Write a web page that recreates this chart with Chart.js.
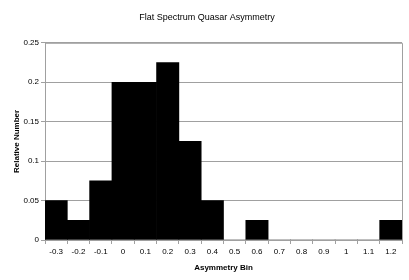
<!DOCTYPE html>
<html>
<head>
<meta charset="utf-8">
<script src="https://cdn.jsdelivr.net/npm/chart.js@4"></script>
<style>
  html, body { margin: 0; padding: 0; background: #fff; }
</style>
</head>
<body>
<canvas id="grafico" width="409" height="280"></canvas>
<script>
// bins and relative counts
const bins = ['-0.3', '-0.2', '-0.1', '0', '0.1', '0.2', '0.3', '0.4', '0.5', '0.6', '0.7', '0.8', '0.9', '1', '1.1', '1.2'];
const relativeNumber = [0.05, 0.025, 0.075, 0.2, 0.2, 0.225, 0.125, 0.05, 0, 0.025, 0, 0, 0, 0, 0, 0.025];
const yTicks = [0, 0.05, 0.1, 0.15, 0.2, 0.25];

const fuente = 'Liberation Sans, Arial, sans-serif';

// top and right frame of the plot area
const marco = {
    id: 'marco',
    afterDraw(chart) {
        const { ctx, chartArea: a } = chart;
        ctx.save();
        ctx.strokeStyle = '#a0a0a0';
        ctx.lineWidth = 1;
        ctx.beginPath();
        ctx.moveTo(a.left, a.top + 0.5);
        ctx.lineTo(a.right + 0.5, a.top + 0.5);
        ctx.lineTo(a.right + 0.5, a.bottom);
        ctx.stroke();
        ctx.restore();
    }
};

const ctx = document.getElementById('grafico').getContext('2d');
new Chart(ctx, {
    type: 'bar',
    data: {
        labels: bins,
        datasets: [{
            label: 'Relative Number',
            data: relativeNumber,
            backgroundColor: '#000',
            borderWidth: 0,
            barPercentage: 1,
            categoryPercentage: 1
        }]
    },
    options: {
        responsive: false,
        animation: false,
        layout: { padding: { left: 12, right: 7, top: 0, bottom: 7 } },
        plugins: {
            legend: { display: false },
            tooltip: { enabled: false },
            title: {
                display: true,
                text: 'Flat Spectrum Quasar Asymmetry',
                color: '#000',
                font: { family: fuente, size: 9, weight: 'normal' },
                padding: { top: 12, bottom: 20 }
            }
        },
        scales: {
            x: {
                grid: { display: true, drawOnChartArea: false, offset: true, tickLength: 4, color: '#a0a0a0' },
                border: { color: '#a0a0a0' },
                ticks: { color: '#000', font: { family: fuente, size: 8 }, padding: 3, maxRotation: 0, autoSkip: false },
                title: {
                    display: true,
                    text: 'Asymmetry Bin',
                    color: '#000',
                    font: { family: fuente, size: 8, weight: 'bold' },
                    padding: { top: 2, bottom: 0 }
                },
                afterFit(scale) { scale.height = 33; }
            },
            y: {
                min: 0,
                max: 0.25,
                afterBuildTicks(scale) { scale.ticks = yTicks.map(v => ({ value: v })); },
                grid: { color: '#a0a0a0', tickLength: 4 },
                border: { color: '#a0a0a0' },
                ticks: {
                    color: '#000',
                    font: { family: fuente, size: 8 },
                    padding: 2,
                    callback: v => String(+v.toFixed(2))
                },
                title: {
                    display: true,
                    text: 'Relative Number',
                    color: '#000',
                    font: { family: fuente, size: 8, weight: 'bold' },
                    padding: { top: 0, bottom: 2 }
                },
                afterFit(scale) { scale.width = 33; }
            }
        }
    },
    plugins: [marco]
});
</script>
</body>
</html>
